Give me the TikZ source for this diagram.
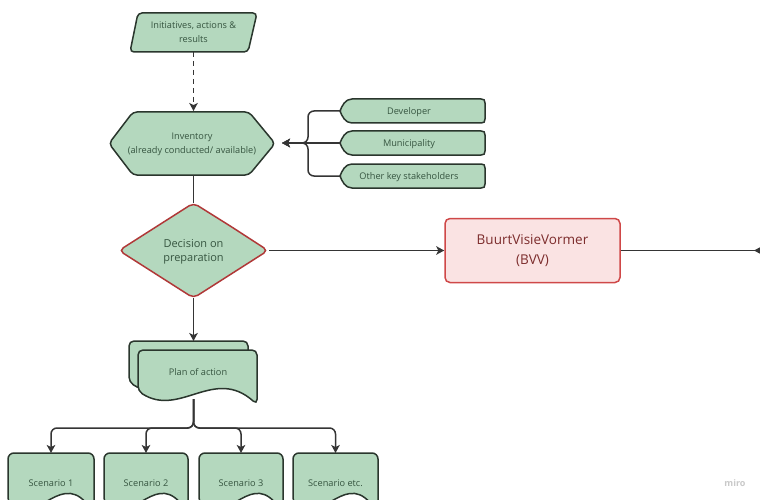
\documentclass[tikz,border=0pt]{standalone}
\usepackage{fontspec}
\setmainfont{Open Sans}
\usetikzlibrary{arrows.meta}

\definecolor{boxfill}{HTML}{B4D8BE}
\definecolor{boxline}{HTML}{2A362D}
\definecolor{boxtext}{HTML}{365540}
\definecolor{wirecol}{HTML}{353535}
\definecolor{decline}{HTML}{B03838}
\definecolor{bvvfill}{HTML}{FAE3E3}
\definecolor{bvvline}{HTML}{CF4848}
\definecolor{bvvtext}{HTML}{7C2C2C}
\definecolor{markgray}{HTML}{C9C9C9}

% document shape: style, left x, top y, width, bottom-left y, wave depth, wave height
\newcommand\docshape[7]{%
  \path[#1] (#2+#4/2,#3) -- (#2+#4,#3) -- (#2+#4,#5+#6*0.5)
    .. controls (#2+0.64*#4,#5-#7) and (#2+0.35*#4,#5+#6) .. (#2,#5) -- (#2,#3) -- cycle;}

% stakeholder tab: top y, bottom y
\newcommand\stakeshape[2]{%
  \path[shapebox,rounded corners=0pt] (352,#1) -- (481,#1)
    .. controls (484,#1) and (485,#1+1) .. (485,#1+4) -- (485,#2-4)
    .. controls (485,#2-1) and (484,#2) .. (481,#2) -- (352,#2)
    .. controls (345,#2) and (342,#1/2+#2/2+5) .. (340,#1/2+#2/2)
    .. controls (342,#1/2+#2/2-5) and (345,#1) .. (352,#1) -- cycle;}

\begin{document}
\begin{tikzpicture}[x=1pt,y=-1pt,
  shapebox/.style={fill=boxfill,draw=boxline,line width=1.5pt,rounded corners=4pt},
  lbl/.style={text=boxtext,font=\fontsize{9.2}{14}\selectfont,align=center,inner sep=0pt},
  wire/.style={draw=wirecol,line width=1.5pt},
  tip/.style={-{Stealth[length=8pt,width=8.5pt,inset=2pt]}}
]
\useasboundingbox[fill=white] (0,0) rectangle (760,500);

% initiatives (parallelogram)
\path[shapebox] (193,13) -- (257,13) -- (248,52) -- (130,52) -- (138,13) -- cycle;
\node[lbl] (init) at (193.5,32.5) {Initiatives, actions \&\\results};
\coordinate (init-b) at (193.5,52);

% inventory (hexagon)
\path[shapebox] (191,112) -- (249,112) -- (275,143.5) -- (249,175) -- (133,175)
  -- (109,143.5) -- (133,112) -- cycle;
\node[lbl] (inv) at (192,144) {Inventory\\(already conducted/ available)};
\coordinate (inv-t) at (193.5,111);
\coordinate (inv-b) at (193.5,175);
\coordinate (inv-e) at (282,143);

% stakeholders
\stakeshape{99}{123}
\stakeshape{131}{155}
\stakeshape{164}{188}
\node[lbl] (dev) at (409,112.5) {Developer};
\node[lbl] (mun) at (409,144) {Municipality};
\node[lbl] (oth) at (409,177) {Other key stakeholders};
\coordinate (dev-w) at (341,111);
\coordinate (mun-w) at (341,143);
\coordinate (oth-w) at (341,176);

% decision (diamond)
\path[shapebox,draw=decline,rounded corners=5pt] (231,226.5) -- (268,250.5) -- (193.5,298)
  -- (119,250.5) -- (193.5,203) -- cycle;
\node[lbl,font=\fontsize{11}{14}\selectfont] (dec) at (193.5,251.5) {Decision on\\preparation};
\coordinate (dec-t) at (193.5,203);
\coordinate (dec-b) at (193.5,298);
\coordinate (dec-e) at (269,250.5);

% BuurtVisieVormer
\node[draw=bvvline,fill=bvvfill,line width=1.5pt,rounded corners=5pt,
      minimum width=175pt,minimum height=64pt,text=bvvtext,align=center,
      font=\fontsize{13.5}{20}\selectfont] (bvv) at (532.5,250.5) {BuurtVisieVormer\\(BVV)};
\coordinate (offR) at (785,250.5);
\coordinate (farTip) at (754,250.5);

% plan of action (stacked documents)
\docshape{shapebox,rounded corners=5pt}{129}{341}{119}{382}{27}{25}
\docshape{shapebox,rounded corners=5pt}{138}{350}{119}{391}{27}{25}
\node[lbl] (plan) at (198,372) {Plan of action};
\coordinate (plan-t) at (193.5,341);
\coordinate (plan-b) at (193.5,399);

% scenarios
\docshape{shapebox,rounded corners=6pt}{8}{453}{86}{503}{22}{36}
\docshape{shapebox,rounded corners=6pt}{104}{453}{84}{503}{22}{36}
\docshape{shapebox,rounded corners=6pt}{199}{453}{84}{503}{22}{36}
\docshape{shapebox,rounded corners=6pt}{293}{453}{85}{503}{22}{36}
\node[lbl] (s1) at (51,483) {Scenario 1};
\node[lbl] (s2) at (146,483) {Scenario 2};
\node[lbl] (s3) at (241,483) {Scenario 3};
\node[lbl] (s4) at (335.5,483) {Scenario etc.};
\coordinate (s1-t) at (51,453);
\coordinate (s2-t) at (146,453);
\coordinate (s3-t) at (241,453);
\coordinate (s4-t) at (335.5,453);

% connectors
\draw[wire,tip,dash pattern=on 5pt off 4pt] (init-b) -- (inv-t);
\draw[wire,tip,rounded corners=6pt] (dev-w) -- ++(-33,0) |- (inv-e);
\draw[wire,tip] (mun-w) -- (inv-e);
\draw[wire,tip,rounded corners=6pt] (oth-w) -- ++(-33,0) |- (inv-e);
\draw[wire] (inv-b) -- (dec-t);
\draw[wire,tip] (dec-e) -- (bvv.west);
\draw[wire] (bvv.east) -- (offR);
\draw[wire,tip] (offR) -- (farTip);
\draw[wire,tip] (dec-b) -- (plan-t);
\foreach \s in {s1-t,s2-t,s3-t,s4-t}
  \draw[wire,tip,rounded corners=6pt] (plan-b) -- ++(0,29) -| (\s);

% watermark
\node[text=markgray,font=\bfseries\fontsize{9}{10}\selectfont,inner sep=0pt] (mark) at (735,483) {miro};
\end{tikzpicture}
\end{document}
